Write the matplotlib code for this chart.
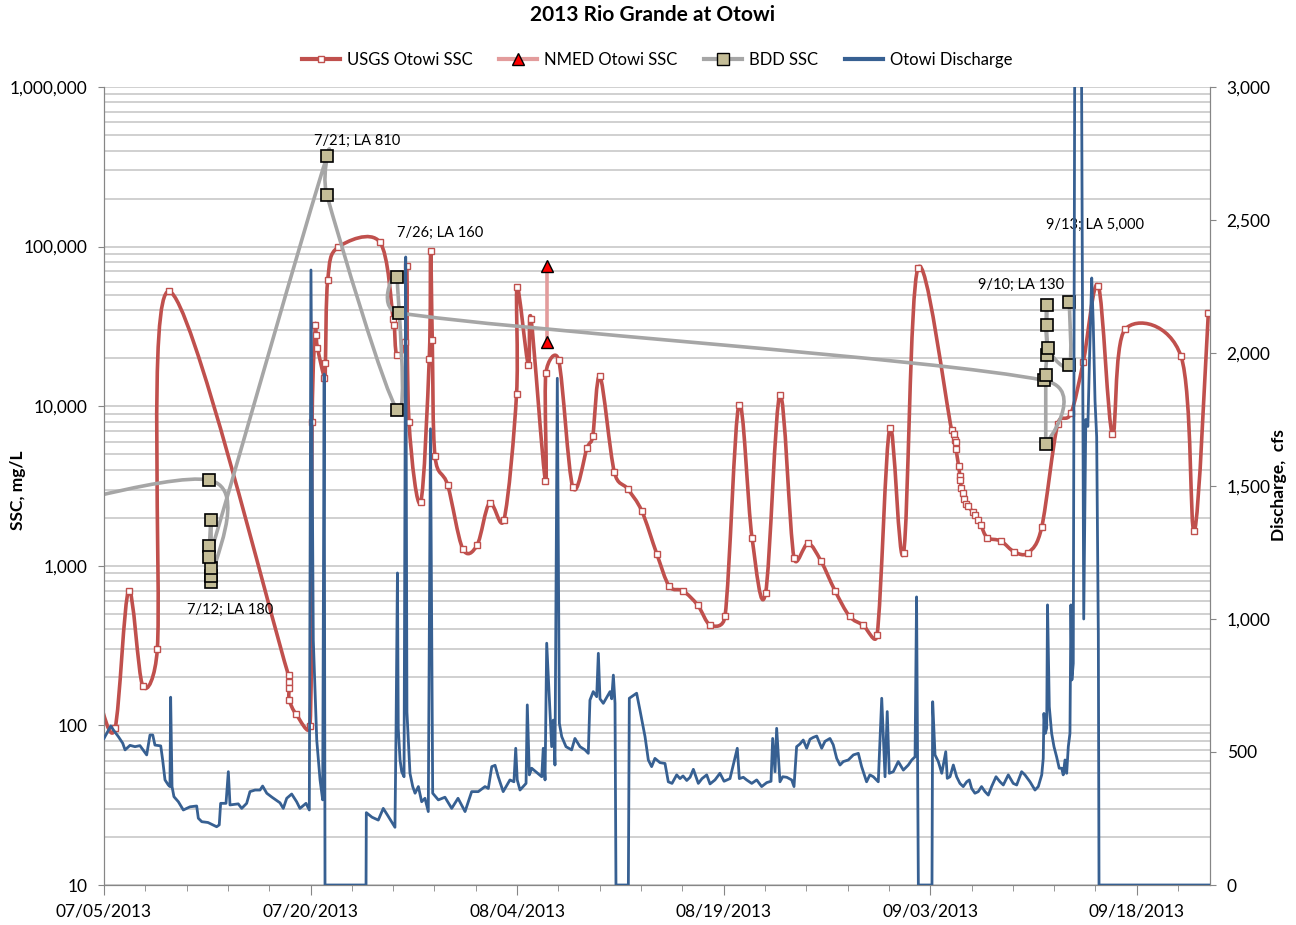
import numpy as np
import matplotlib
matplotlib.use("Agg")
import matplotlib.pyplot as plt
import matplotlib.dates as mdates
from matplotlib.path import Path
from matplotlib.patches import PathPatch
from matplotlib.lines import Line2D
from matplotlib.transforms import Affine2D
from matplotlib.ticker import FuncFormatter, FixedLocator, LogLocator, NullFormatter
from datetime import datetime

plt.rcParams['font.family'] = ['Lato', 'DejaVu Sans']

# dias contados a partir de 05/07/2013
inicio = datetime(2013, 7, 5)

# USGS Otowi SSC (mg/L)
usgs_dia = [-0.30, 0.80, 1.79, 2.81, 3.87, 4.74, 13.40, 13.42, 13.44, 13.46,
            13.94, 14.96, 15.11, 15.35, 15.41, 15.50, 16.01, 16.08, 16.25, 16.99,
            20.02, 21.01, 21.08, 21.26, 21.89, 21.98, 22.15, 23.00, 23.62, 23.72,
            23.84, 24.04, 24.96, 26.05, 27.09, 28.00, 29.05, 29.96, 30.00, 30.81,
            31.01, 32.06, 32.09, 33.02, 34.04, 35.08, 35.49, 36.02, 37.06, 38.03,
            39.05, 40.14, 41.05, 42.05, 43.12, 44.03, 45.10, 46.11, 47.06, 48.04,
            49.09, 50.11, 51.13, 52.07, 53.09, 54.14, 55.12, 56.14, 57.07, 58.07,
            59.11, 61.56, 61.73, 61.80, 61.84, 61.87, 62.07, 62.16, 62.20, 62.26,
            62.35, 62.42, 62.63, 62.78, 63.08, 63.23, 63.47, 63.69, 64.15, 65.14,
            66.12, 67.13, 68.10, 69.26, 70.22, 71.12, 72.21, 73.23, 74.15, 78.21,
            79.18, 80.20]
usgs_ssc = [140, 96, 697, 177, 299, 52400, 206, 187, 171, 144,
            118, 99, 7960, 32100, 27800, 23300, 15100, 18700, 62100, 98900,
            107000, 35000, 32400, 21000, 25400, 75500, 7960, 2510, 19900, 93400,
            25900, 4850, 3200, 1280, 1345, 2480, 1950, 11900, 55700, 18200,
            35400, 3400, 16100, 19400, 3120, 5470, 6470, 15400, 3870, 3030,
            2210, 1190, 745, 697, 566, 425, 483, 10200, 1500, 672,
            11800, 1120, 1380, 1070, 697, 483, 425, 367, 7310, 1210,
            73300, 7060, 6730, 6110, 5970, 5420, 4200, 3640, 3430, 3070,
            2840, 2640, 2450, 2360, 2170, 2070, 1930, 1790, 1500, 1430,
            1220, 1210, 1750, 7740, 9020, 19000, 56700, 6710, 30300, 20600,
            1650, 38600]

# NMED Otowi SSC
nmed_dia = [32.17, 32.17]
nmed_ssc = [75100, 25100]

# BDD SSC
bdd_dia = [-10.0, 7.65, 7.77, 7.77, 7.77, 7.77, 7.66, 7.66, 16.19, 16.19,
           21.30, 21.30, 21.40, 68.29, 68.39, 68.39, 68.46, 68.46, 68.46, 68.57,
           70.10, 70.10]
bdd_ssc = [1700, 3440, 794, 861, 975, 1930, 1330, 1130, 367000, 210000,
           9530, 64400, 38500, 14500, 5800, 15600, 20800, 32100, 42900, 23100,
           18100, 44700]

# Otowi Discharge (cfs)
q_dia = [0.00, 0.20, 0.49, 0.68, 1.04, 1.36, 1.53, 1.89, 2.25, 2.61,
         3.10, 3.34, 3.54, 3.70, 4.12, 4.26, 4.43, 4.67, 4.79, 4.84,
         4.94, 5.08, 5.40, 5.76, 6.25, 6.73, 6.85, 7.10, 7.55, 8.18,
         8.37, 8.47, 8.86, 9.03, 9.15, 9.75, 10.00, 10.36, 10.60, 10.97,
         11.33, 11.52, 11.82, 12.20, 12.78, 13.02, 13.27, 13.63, 13.99, 14.23,
         14.67, 14.91, 15.03, 15.20, 15.45, 15.69, 15.88, 15.99, 16.05, 19.03,
         19.05, 19.46, 19.92, 20.28, 20.62, 21.13, 21.21, 21.31, 21.37, 21.50,
         21.62, 21.79, 21.91, 22.00, 22.10, 22.22, 22.42, 22.59, 22.83, 23.07,
         23.31, 23.55, 23.71, 23.87, 24.28, 24.76, 25.25, 25.71, 26.22, 26.70,
         27.18, 27.67, 27.91, 28.16, 28.40, 28.63, 28.99, 29.48, 29.77, 29.90,
         30.01, 30.21, 30.65, 30.74, 30.89, 31.06, 31.79, 31.90, 32.03, 32.15,
         32.39, 32.51, 32.63, 32.75, 32.92, 33.07, 33.24, 33.55, 33.96, 34.20,
         34.57, 34.93, 35.17, 35.29, 35.53, 35.78, 35.90, 36.02, 36.26, 36.75,
         36.87, 36.99, 37.11, 37.18, 38.08, 38.15, 38.68, 38.92, 39.29, 39.53,
         39.77, 40.01, 40.38, 40.74, 40.98, 41.25, 41.59, 41.83, 42.05, 42.32,
         42.56, 42.80, 43.16, 43.43, 43.77, 44.01, 44.37, 44.73, 45.03, 45.46,
         45.99, 46.14, 46.43, 46.67, 47.04, 47.40, 47.76, 48.13, 48.44, 48.56,
         48.73, 48.85, 49.09, 49.29, 49.58, 49.94, 50.11, 50.30, 50.54, 50.78,
         51.03, 51.27, 51.51, 51.76, 52.12, 52.36, 52.72, 52.96, 53.21, 53.45,
         53.69, 54.05, 54.42, 54.78, 55.02, 55.38, 55.62, 55.87, 56.23, 56.48,
         56.72, 56.88, 57.03, 57.32, 57.68, 58.05, 58.41, 58.66, 58.90, 59.01,
         59.14, 60.13, 60.18, 60.35, 60.59, 60.84, 61.13, 61.24, 61.44, 61.68,
         61.92, 62.16, 62.40, 62.65, 62.84, 63.01, 63.25, 63.49, 63.73, 63.98,
         64.22, 64.46, 64.78, 65.07, 65.31, 65.67, 66.03, 66.28, 66.64, 66.88,
         67.25, 67.61, 67.85, 68.10, 68.21, 68.26, 68.36, 68.46, 68.52, 68.65,
         68.82, 68.99, 69.18, 69.37, 69.55, 69.66, 69.79, 69.91, 70.03, 70.15,
         70.22, 70.29, 70.39, 70.52, 70.66, 70.95, 71.15, 71.30, 71.45, 71.58,
         71.73, 71.84, 71.97, 72.09, 72.21, 72.26, 80.32]
q_cfs = [551, 570, 598, 583, 558, 533, 508, 525, 520, 524,
         489, 564, 564, 526, 523, 470, 395, 376, 370, 706,
         370, 332, 313, 282, 294, 297, 251, 238, 235, 219,
         226, 307, 307, 426, 301, 305, 288, 307, 351, 357,
         357, 372, 345, 330, 309, 288, 326, 342, 313, 288,
         307, 282, 2312, 920, 545, 395, 320, 1921, 0, 0,
         272, 255, 244, 288, 260, 217, 589, 1173, 589, 470,
         426, 407, 2361, 650, 545, 420, 370, 345, 370, 313,
         326, 276, 1715, 345, 320, 330, 288, 326, 276, 351,
         351, 370, 363, 445, 450, 407, 351, 395, 388, 514,
         395, 357, 382, 677, 414, 439, 407, 514, 395, 909,
         645, 520, 620, 451, 1905, 608, 558, 520, 508, 551,
         520, 508, 495, 695, 727, 708, 871, 700, 683, 727,
         700, 789, 683, 0, 0, 702, 721, 658, 558, 470,
         445, 476, 460, 457, 388, 382, 414, 400, 410, 393,
         405, 435, 382, 400, 414, 380, 395, 420, 390, 400,
         514, 400, 405, 395, 382, 395, 370, 385, 390, 551,
         426, 589, 388, 407, 405, 395, 370, 520, 530, 545,
         514, 548, 555, 560, 514, 540, 551, 527, 476, 451,
         464, 470, 489, 495, 445, 388, 414, 407, 388, 702,
         407, 652, 420, 426, 464, 432, 451, 470, 482, 1083,
         0, 0, 689, 489, 464, 420, 501, 401, 407, 451,
         407, 382, 370, 388, 395, 363, 345, 351, 370, 351,
         338, 370, 407, 388, 376, 414, 382, 376, 426, 414,
         388, 357, 370, 414, 476, 645, 570, 590, 1053, 670,
         570, 520, 482, 439, 439, 414, 470, 420, 520, 570,
         1053, 771, 833, 3600, 3600, 3600, 1000, 1750, 1724, 2000,
         2282, 2113, 1820, 1684, 945, 0, 0]

# rótulos das amostras BDD
rotulos = ['7/12; LA 180', '7/21; LA 810', '7/26; LA 160', '9/10; LA 130', '9/13; LA 5,000']
rot_dia = [9.15, 18.37, 24.40, 66.59, 71.97]
rot_ssc = [527, 462000, 121000, 57900, 136000]

vermelho = '#C0504D'
rosa = '#E39C9C'
cinza = '#A6A6A6'
bege = '#C4BD97'
azul = '#376092'
grade = '#C3C3C3'

# geometria do gráfico (pixels)
ESQ, DIR, TOPO, BASE = 104, 1210, 87, 885
DIA_FIM = 80.32


def para_datas(dias):
    base = mdates.date2num(inicio)
    return base + np.asarray(dias, dtype=float)


# curva suavizada (parecida com a do Excel) em escala log
def suavizar(x, y, limite=0.7):
    sx = (DIR - ESQ) / DIA_FIM      # px por dia
    sy = (BASE - TOPO) / 5.0        # px por década
    p = np.column_stack([np.asarray(x) * sx, np.log10(y) * sy])
    n = len(p)
    verts = [p[0]]
    codes = [Path.MOVETO]
    for i in range(n - 1):
        p0 = p[i - 1] if i > 0 else p[i]
        p1 = p[i]
        p2 = p[i + 1]
        p3 = p[i + 2] if i + 2 < n else p[i + 1]
        seg = np.hypot(*(p2 - p1))
        t1 = (p2 - p0) / 6.0
        t2 = (p3 - p1) / 6.0
        for t in (t1, t2):
            m = np.hypot(*t)
            if m > limite * seg and m > 0:
                t *= limite * seg / m
        verts += [p1 + t1, p2 - t2, p2]
        codes += [Path.CURVE4] * 3
    verts = np.array(verts)
    verts[:, 0] = verts[:, 0] / sx + para_datas([0])[0]
    verts[:, 1] = 10 ** (verts[:, 1] / sy)
    return Path(verts, codes)


def milhar(v, pos):
    return f"{v:,.0f}"


def main():
    fig = plt.figure(figsize=(12.96, 9.25), dpi=100)
    ax = fig.add_axes([ESQ / 1296, 1 - BASE / 925, (DIR - ESQ) / 1296, (BASE - TOPO) / 925])
    ax.set_yscale('log')
    ax.set_ylim(10, 1e6)
    xmin, xmax = para_datas([0, DIA_FIM])
    ax.set_xlim(xmin, xmax)

    # grade horizontal
    ax.yaxis.set_major_locator(LogLocator(base=10, numticks=10))
    ax.yaxis.set_minor_locator(LogLocator(base=10, subs=np.arange(2, 10), numticks=50))
    ax.yaxis.set_major_formatter(FuncFormatter(milhar))
    ax.yaxis.set_minor_formatter(NullFormatter())
    ax.grid(True, which='both', axis='y', color=grade, lw=1.1)
    ax.set_axisbelow(True)
    ax.tick_params(axis='y', which='minor', length=0)
    ax.tick_params(axis='y', which='major', length=4, pad=8, labelsize=12.5, color='#868686')

    # eixo x
    ax.xaxis.set_major_locator(FixedLocator(para_datas(np.arange(0, 80, 15))))
    ax.xaxis.set_minor_locator(FixedLocator(para_datas(np.arange(0, 81, 3))))
    ax.xaxis.set_major_formatter(mdates.DateFormatter('%m/%d/%Y'))
    ax.tick_params(axis='x', which='major', length=7, pad=6, labelsize=12.5, color='#868686')
    ax.tick_params(axis='x', which='minor', length=4, color='#868686')

    for lado in ['left', 'bottom', 'right']:
        ax.spines[lado].set_color('#868686')
    ax.spines['top'].set_visible(False)

    # séries SSC
    ax.add_patch(PathPatch(suavizar(usgs_dia, usgs_ssc), fill=False, edgecolor=vermelho,
                           lw=2.6, capstyle='round', joinstyle='round', zorder=3))
    ax.plot(para_datas(usgs_dia), usgs_ssc, ls='none', marker='s', ms=4.8,
            mfc='white', mec=vermelho, mew=1.0, zorder=4)

    ax.plot(para_datas(nmed_dia), nmed_ssc, color=rosa, lw=2.6, marker='^', ms=9,
            mfc='#FF0000', mec='black', mew=1.0, zorder=5)

    ax.add_patch(PathPatch(suavizar(bdd_dia, bdd_ssc), fill=False, edgecolor=cinza,
                           lw=2.6, capstyle='round', joinstyle='round', zorder=6))
    ax.plot(para_datas(bdd_dia), bdd_ssc, ls='none', marker='s', ms=8,
            mfc=bege, mec='black', mew=1.2, zorder=7)

    for t, d, v in zip(rotulos, rot_dia, rot_ssc):
        ax.text(para_datas([d])[0], v, t, ha='center', va='center', fontsize=10.5, zorder=8)

    # vazão no eixo secundário
    ax2 = ax.twinx()
    ax2.set_ylim(0, 3000)
    ax2.set_xlim(xmin, xmax)
    ax2.plot(para_datas(q_dia), q_cfs, color=azul, lw=2.0, zorder=3)
    ax2.set_yticks(np.arange(0, 3001, 500))
    ax2.yaxis.set_major_formatter(FuncFormatter(milhar))
    ax2.tick_params(axis='y', length=4, pad=8, labelsize=12.5, color='#868686')
    for lado in ['left', 'bottom', 'right']:
        ax2.spines[lado].set_color('#868686')
    ax2.spines['top'].set_visible(False)

    fig.text(653 / 1296, 1 - 15 / 925, '2013 Rio Grande at Otowi', ha='center', va='center',
             fontsize=15, fontweight='bold')
    fig.text(18 / 1296, 1 - 490 / 925, 'SSC, mg/L', rotation=90, ha='center', va='center',
             fontsize=12.5, fontweight='bold')
    fig.text(1279 / 1296, 1 - 485 / 925, 'Discharge,  cfs', rotation=90, ha='center', va='center',
             fontsize=12.5, fontweight='bold')

    alcas = [
        Line2D([], [], color=vermelho, lw=3, marker='s', ms=5, mfc='white', mec=vermelho),
        Line2D([], [], color=rosa, lw=3, marker='^', ms=9, mfc='#FF0000', mec='black'),
        Line2D([], [], color=cinza, lw=3, marker='s', ms=8, mfc=bege, mec='black'),
        Line2D([], [], color=azul, lw=3),
    ]
    nomes = ['USGS Otowi SSC', 'NMED Otowi SSC', 'BDD SSC', 'Otowi Discharge']
    fig.legend(alcas, nomes, loc='center', bbox_to_anchor=(657 / 1296, 1 - 60 / 925), ncol=4,
               frameon=False, fontsize=12, handlelength=2.3, columnspacing=1.6, handletextpad=0.4)

    fig.savefig('out.png', dpi=100)


if __name__ == "__main__":
    main()
